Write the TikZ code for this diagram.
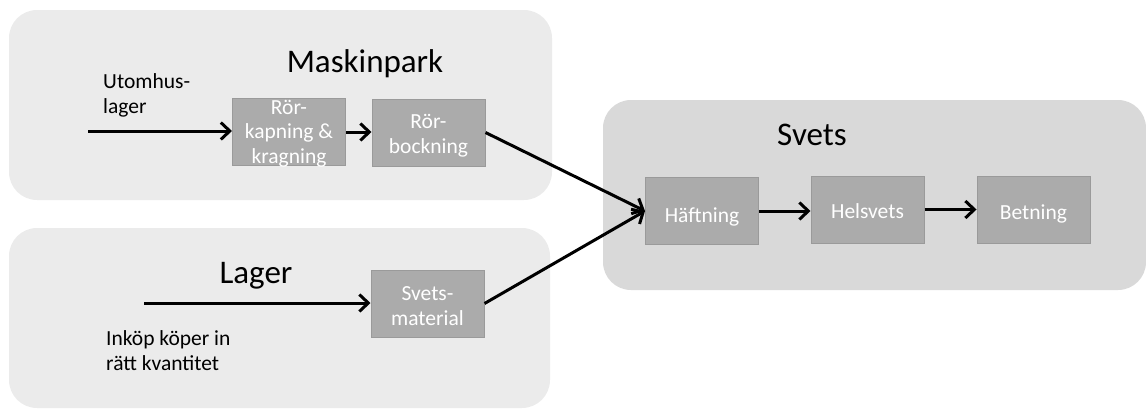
\documentclass[tikz,border=0pt]{standalone}
\usepackage{fontspec}
\setmainfont{Carlito}
\usetikzlibrary{arrows.meta}
\definecolor{regA}{HTML}{EBEBEB}
\definecolor{regB}{HTML}{D9D9D9}
\definecolor{boxfill}{HTML}{ABABAB}
\definecolor{boxline}{HTML}{9A9A9A}
\tikzset{
  region/.style={fill=#1, draw=none, rounded corners=28pt},
  stepbox/.style={fill=boxfill, draw=boxline, line width=1pt, minimum width=113pt, minimum height=67pt, inner sep=0pt},
  boxtext/.style={text=white, font=\fontsize{21.5}{24.5}\selectfont, align=center, inner sep=0pt, anchor=base},
  title/.style={font=\fontsize{33}{38}\selectfont, inner sep=0pt, anchor=base},
  lbl/.style={font=\fontsize{21.5}{25}\selectfont, align=left, inner sep=0pt, anchor=base west},
  flow/.style={line width=3pt, -{Straight Barb[length=9pt,width=17pt,line width=3pt]}}
}
\begin{document}
\begin{tikzpicture}[x=1pt,y=-1pt]
\useasboundingbox (0,0) rectangle (1146,410);
\fill[region=regA] (9,10) rectangle (552,200);
\fill[region=regA] (9,228) rectangle (550,408);
\fill[region=regB] (603,100) rectangle (1146,290);
\node[title] (tm) at (365,72) {Maskinpark};
\node[title] (tl) at (256,283) {Lager};
\node[title] (ts) at (812,145) {Svets};
\node[lbl] (lu) at (103,113) {Utomhus-\\lager};
\node[lbl] (li) at (106,370) {Inköp köper in\\rätt kvantitet};
\node[stepbox] (b1) at (289,132) {};
\node[stepbox] (b2) at (428.5,132.5) {};
\node[stepbox] (b3) at (427.5,303.5) {};
\node[stepbox] (h1) at (702,211) {};
\node[stepbox] (h2) at (867.5,209.5) {};
\node[stepbox] (h3) at (1033.5,209.5) {};
\node[boxtext] (t1) at (289,163) {Rör-\\kapning \&\\kragning};
\node[boxtext] (t2) at (428.5,153) {Rör-\\bockning};
\node[boxtext] (t3) at (427.5,325) {Svets-\\material};
\node[boxtext] (th1) at (702,222) {Häftning};
\node[boxtext] (th2) at (867.5,218) {Helsvets};
\node[boxtext] (th3) at (1033.5,219) {Betning};
\coordinate (s1) at (88,131);
\coordinate (s2) at (144,303);
\draw[flow] (s1) -- (b1.west |- s1);
\draw[flow] (b1.east) -- (b2.west |- b1.east);
\draw[flow] (s2) -- (b3.west |- s2);
\draw[flow] (b2.east) -- (h1.west);
\draw[flow] (b3.east) -- (h1.west);
\draw[flow] (h1.east) -- (h2.west |- h1.east);
\draw[flow] (h2.east) -- (h3.west);
\end{tikzpicture}
\end{document}
